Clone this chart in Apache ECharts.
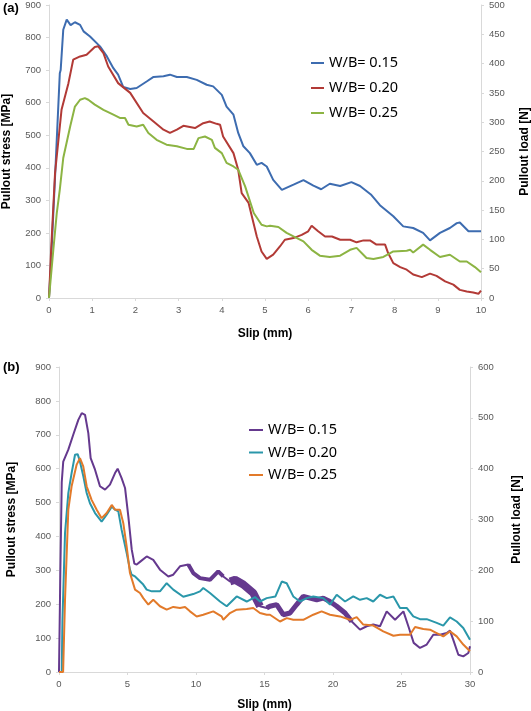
<!DOCTYPE html>
<html>
<head>
<meta charset="utf-8">
<script src="https://cdn.jsdelivr.net/npm/echarts@6/dist/echarts.min.js"></script>
<style>
html,body{margin:0;padding:0;background:#fff;}
#chart{width:531px;height:711px;}
</style>
</head>
<body>
<div id="chart"></div>
<script>
// ---------- Panel (a) data: slip [mm] vs pullout stress [MPa] ----------
var legendLabels = ['W/B= 0.15', 'W/B= 0.20', 'W/B= 0.25'];

var aSlip15 = [0,0.05,0.15,0.25,0.27,0.33,0.41,0.5,0.6,0.72,0.8,0.95,1.18,1.34,1.49,1.6,1.72,1.88,2.03,2.26,2.42,2.65,2.8,2.96,3.19,3.42,3.65,3.8,4.0,4.11,4.27,4.38,4.5,4.65,4.81,4.92,5.04,5.19,5.39,5.66,5.89,6.12,6.3,6.5,6.74,7.0,7.2,7.45,7.66,7.97,8.2,8.43,8.66,8.82,9.05,9.28,9.44,9.51,9.71,9.9,10];
var aStress15 = [0,120,400,690,700,824,855,838,847,839,819,803,773,742,706,686,648,642,645,665,679,681,686,679,679,670,655,650,624,588,563,507,466,445,409,415,404,363,332,348,362,345,334,351,344,356,344,318,285,251,220,215,200,177,200,215,230,232,205,205,205];

var aSlip20 = [0,0.05,0.14,0.29,0.45,0.56,0.72,0.87,1.06,1.14,1.26,1.37,1.6,1.88,2.18,2.42,2.65,2.8,2.96,3.11,3.38,3.57,3.72,3.88,3.96,4.03,4.27,4.38,4.46,4.62,4.81,4.92,5.04,5.19,5.35,5.46,5.66,5.85,6.0,6.08,6.23,6.39,6.55,6.74,6.97,7.12,7.28,7.43,7.58,7.78,7.85,7.97,8.13,8.28,8.43,8.63,8.82,8.97,9.17,9.36,9.51,9.67,9.82,9.94,10];
var aStress20 = [0,150,384,578,660,732,742,747,771,773,752,711,660,630,568,542,517,507,517,529,522,537,542,535,532,496,445,394,322,292,189,143,120,133,159,179,184,194,205,222,205,189,189,179,179,171,177,177,164,164,138,107,95,87,72,64,75,68,51,41,25,20,17,13,23];

var aSlip25 = [0,0.1,0.18,0.25,0.33,0.49,0.6,0.72,0.83,0.91,1.06,1.26,1.49,1.64,1.76,1.84,2.03,2.18,2.3,2.49,2.72,2.96,3.19,3.35,3.46,3.61,3.77,3.84,4.0,4.11,4.27,4.38,4.54,4.74,4.92,5.04,5.12,5.31,5.5,5.66,5.89,6.08,6.27,6.5,6.74,6.97,7.12,7.35,7.51,7.74,7.97,8.28,8.36,8.43,8.66,8.82,9.05,9.28,9.51,9.67,9.86,10];
var aStress25 = [0,148,261,333,430,527,588,609,614,609,594,578,563,553,553,532,527,532,507,486,471,466,458,458,491,496,486,461,445,415,404,394,343,261,225,220,222,218,200,189,174,148,130,126,130,148,154,123,120,126,143,145,148,140,164,148,126,133,112,112,95,79];

// ---------- Panel (b) data ----------
var bSlip15 = [0,0.1,0.2,0.31,0.68,1.04,1.41,1.66,1.9,2.14,2.31,2.63,2.99,3.36,3.72,4.09,4.28,4.57,4.82,5.06,5.31,5.5,5.67,5.91,6.4,6.88,7.01,7.37,7.98,8.34,8.83,9.44,9.8,10.29,11.02,11.62,11.99,12.48,12.85,13.45,14.18,14.67,15.16,15.4,15.89,16.37,16.86,17.35,17.83,18.32,18.81,19.29,19.78,20.27,20.88,21.37,21.97,22.46,22.94,23.43,23.92,24.53,25.14,25.5,25.89,26.35,26.84,27.32,27.81,28.3,28.54,28.78,29.15,29.51,29.88,30];
var bStress15 = [0,300,560,621,656,700,744,764,759,705,631,597,548,538,553,587,600,572,543,459,361,320,317,325,341,331,333,302,282,287,312,317,292,277,272,297,282,267,272,258,233,194,189,194,199,169,174,199,223,218,213,218,208,194,174,149,125,135,140,135,179,154,179,135,86,71,81,110,110,115,122,95,51,46,56,76];

var bSlip20 = [0,0.2,0.25,0.44,0.68,0.92,1.17,1.36,1.5,1.78,2.02,2.26,2.63,3.11,3.48,3.85,4.09,4.33,4.57,4.94,5.18,5.3,5.55,5.67,6.15,6.4,6.77,7.37,7.86,8.34,9.07,9.8,10.29,10.53,11.02,11.75,12.24,12.97,13.7,14.31,14.67,15.16,15.8,16.26,16.62,17.1,17.59,18.08,18.56,19.29,19.78,20.27,20.88,21.48,21.97,22.46,22.94,23.43,23.92,24.41,24.89,25.38,25.86,26.35,26.84,27.57,28.05,28.54,29.03,29.51,30];
var bStress20 = [0,0,150,410,528,587,641,643,626,577,528,498,469,444,464,488,479,474,420,351,302,287,282,277,258,243,238,238,262,243,222,230,238,248,233,208,194,223,208,221,208,218,223,267,262,223,208,218,223,218,199,228,208,223,213,218,208,228,218,223,189,189,164,156,156,145,137,161,149,130,95];

var bSlip25 = [0,0.3,0.44,0.68,0.92,1.29,1.53,1.77,2.02,2.38,2.75,3.11,3.48,3.85,4.09,4.45,4.69,4.94,5.18,5.55,5.67,5.91,6.15,6.52,6.88,7.37,7.86,8.34,8.83,9.2,9.56,10.05,10.53,11.26,11.87,11.99,12.48,12.97,13.7,14.18,14.67,15.16,15.4,16.13,16.62,17.1,17.83,18.56,19.17,19.78,20.51,21.24,21.73,22.21,22.94,23.67,24.41,24.89,25.62,25.99,26.59,27.08,27.57,28.05,28.54,29.03,29.51,30];
var bStress25 = [0,0,214,479,548,612,631,607,548,508,479,454,469,493,479,479,440,370,292,243,243,233,218,199,213,194,184,192,189,192,179,164,169,179,164,154,174,184,186,189,174,169,169,149,159,154,154,169,179,169,164,154,162,140,137,120,107,110,110,133,127,125,115,105,120,105,81,61];

// slip ranges where the W/B=0.15 curve of panel (b) is drawn as a thick noisy band
var bandRanges = [[9.4, 12.3], [12.3, 14.7], [14.7, 21.5]];

// ---------- axis ticks ----------
var aSlipTicks = [0, 10, 1];
var bSlipTicks = [0, 30, 5];
var stressTicks = [0, 900, 100];
var aLoadTicks = [0, 500, 50];
var bLoadTicks = [0, 600, 100];

function zip(xs, ys) { return xs.map(function (x, i) { return [x, ys[i]]; }); }
function sub(xs, ys, lo, hi) {
  var out = [];
  for (var i = 0; i < xs.length; i++) if (xs[i] >= lo && xs[i] <= hi) out.push([xs[i], ys[i]]);
  return out;
}

var colA = ['#3D6CB0', '#B23A36', '#8CB443'];
var colB = ['#65398E', '#2A97AA', '#E27A2A'];
var tickFont = { fontFamily: 'Liberation Sans', fontSize: 9.5, color: '#595959' };
var titleFont = { fontFamily: 'Liberation Sans', fontSize: 12, fontWeight: 'bold', color: '#000' };
var axisLineStyle = { show: true, lineStyle: { color: '#D9D9D9', width: 1 } };
var axisTickStyle = { show: true, length: 3, lineStyle: { color: '#D9D9D9' } };

function xAx(grid, t, gap) {
  return { gridIndex: grid, type: 'value', min: t[0], max: t[1], interval: t[2],
    name: 'Slip (mm)', nameLocation: 'middle', nameGap: gap, nameTextStyle: titleFont,
    axisLine: axisLineStyle, axisTick: axisTickStyle, splitLine: { show: false },
    axisLabel: Object.assign({ margin: 7 }, tickFont) };
}
function yAx(grid, t, pos, name, gap) {
  return { gridIndex: grid, type: 'value', position: pos, min: t[0], max: t[1], interval: t[2],
    name: name, nameLocation: 'middle', nameRotate: 90, nameGap: gap, nameTextStyle: titleFont,
    axisLine: axisLineStyle, axisTick: axisTickStyle, splitLine: { show: false },
    axisLabel: Object.assign({ margin: 8 }, tickFont) };
}
function line(name, data, color, xi, yi, w) {
  return { name: name, type: 'line', data: data, xAxisIndex: xi, yAxisIndex: yi,
    showSymbol: false, symbol: 'none', smooth: false, lineStyle: { color: color, width: w || 2 },
    itemStyle: { color: color }, z: 3 };
}

var series = [
  line('a|' + legendLabels[0], zip(aSlip15, aStress15), colA[0], 0, 0),
  line('a|' + legendLabels[1], zip(aSlip20, aStress20), colA[1], 0, 0),
  line('a|' + legendLabels[2], zip(aSlip25, aStress25), colA[2], 0, 0),
  line('b|' + legendLabels[0], zip(bSlip15, bStress15), colB[0], 1, 2),
  line('b|' + legendLabels[1], zip(bSlip20, bStress20), colB[1], 1, 2),
  line('b|' + legendLabels[2], zip(bSlip25, bStress25), colB[2], 1, 2)
];
var bandWidths = [4, 8, 5];
bandRanges.forEach(function (r, i) {
  var s = line('band' + i, sub(bSlip15, bStress15, r[0], r[1]), colB[0], 1, 2, bandWidths[i]);
  s.z = 2;
  series.push(s);
});

var legendText = { fontFamily: 'Noto Sans', fontSize: 14.5, color: '#000', lineHeight: 18 };
function fmt(n) { return n.split('|')[1]; }

var option = {
  animation: false,
  backgroundColor: '#fff',
  grid: [
    { left: 49, top: 5, width: 432, height: 293, containLabel: false, outerBoundsMode: 'none' },
    { left: 59, top: 367, width: 411, height: 305, containLabel: false, outerBoundsMode: 'none' }
  ],
  xAxis: [xAx(0, aSlipTicks, 30), xAx(1, bSlipTicks, 27)],
  yAxis: [
    yAx(0, stressTicks, 'left', 'Pullout stress [MPa]', 36),
    yAx(0, aLoadTicks, 'right', 'Pullout load [N]', 38),
    yAx(1, stressTicks, 'left', 'Pullout stress [MPa]', 41),
    yAx(1, bLoadTicks, 'right', 'Pullout load [N]', 41)
  ],
  legend: [
    { data: legendLabels.map(function (l) { return 'a|' + l; }), orient: 'vertical', left: 306, top: 49,
      itemWidth: 13, itemHeight: 2, itemGap: 7, icon: 'rect', formatter: fmt, textStyle: legendText,
      selectedMode: false },
    { data: legendLabels.map(function (l) { return 'b|' + l; }), orient: 'vertical', left: 244, top: 416,
      itemWidth: 14, itemHeight: 2, itemGap: 4.5, icon: 'rect', formatter: fmt, textStyle: legendText,
      selectedMode: false }
  ],
  graphic: [
    { type: 'text', left: 3, top: 2, style: { text: '(a)', font: 'bold 13px "Liberation Sans"', fill: '#000' } },
    { type: 'text', left: 3, top: 361, style: { text: '(b)', font: 'bold 13px "Liberation Sans"', fill: '#000' } }
  ],
  series: series
};

var chart = echarts.init(document.getElementById('chart'), null, { renderer: 'canvas' });
chart.setOption(option);
</script>
</body>
</html>
